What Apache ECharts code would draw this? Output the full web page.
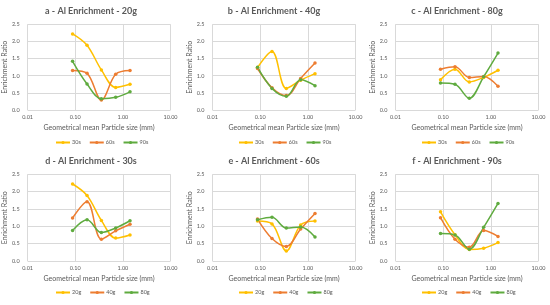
<!DOCTYPE html>
<html><head><meta charset="utf-8">
<script src="https://cdn.jsdelivr.net/npm/echarts@6/dist/echarts.min.js"></script>
<style>html,body{margin:0;padding:0;background:#fff}#c{width:550px;height:305px}</style>
</head><body><div id="c"></div>
<script>
// Geometric mean particle sizes (mm)
const sizes = [0.088, 0.177, 0.354, 0.707, 1.414];
const xTicks = ['0.01', '0.10', '1.00', '10.00'];
const yTicks = ['0.0', '0.5', '1.0', '1.5', '2.0', '2.5'];
// Enrichment ratio by mass and time
const g20_30s = [2.22, 1.89, 1.17, 0.66, 0.75];
const g20_60s = [1.15, 1.07, 0.29, 1.04, 1.15];
const g20_90s = [1.42, 0.76, 0.33, 0.37, 0.53];
const g40_30s = [1.24, 1.71, 0.63, 0.87, 1.06];
const g40_60s = [1.21, 0.65, 0.42, 0.92, 1.37];
const g40_90s = [1.25, 0.63, 0.40, 0.88, 0.71];
const g80_30s = [0.88, 1.19, 0.82, 0.95, 1.16];
const g80_60s = [1.19, 1.26, 0.95, 0.98, 0.69];
const g80_90s = [0.79, 0.75, 0.34, 0.97, 1.66];

const colors = ['#FFC000', '#ED7D31', '#5FAB3F'];
const panels = [
  {title: 'a - Al Enrichment - 20g', names: ['30s', '60s', '90s'], data: [g20_30s, g20_60s, g20_90s]},
  {title: 'b - Al Enrichment - 40g', names: ['30s', '60s', '90s'], data: [g40_30s, g40_60s, g40_90s]},
  {title: 'c - Al Enrichment - 80g', names: ['30s', '60s', '90s'], data: [g80_30s, g80_60s, g80_90s]},
  {title: 'd - Al Enrichment - 30s', names: ['20g', '40g', '80g'], data: [g20_30s, g40_30s, g80_30s]},
  {title: 'e - Al Enrichment - 60s', names: ['20g', '40g', '80g'], data: [g20_60s, g40_60s, g80_60s]},
  {title: 'f - Al Enrichment - 90s', names: ['20g', '40g', '80g'], data: [g20_90s, g40_90s, g80_90s]}
];

const FONT = 'Lato';
const txt = '#595959';
const grid = '#D9D9D9';
const colLeft = [27.5, 212.5, 395.5];
const colCenter = [91, 274, 457];
const rowTop = [24.3, 174.3];
const rowH = [85.7, 86.7];
const titleY = [6.5, 156.5];
const legendY = [139.5, 289.5];
const plotW = 143;

const option = {
  animation: false,
  backgroundColor: '#fff',
  title: [], grid: [], xAxis: [], yAxis: [], legend: [], series: []
};

panels.forEach((p, i) => {
  const c = i % 3, r = Math.floor(i / 3);
  option.title.push({
    text: p.title, left: colCenter[c], top: titleY[r], textAlign: 'center', padding: 0,
    textStyle: {fontFamily: FONT, fontSize: 9, fontWeight: 'bold', color: txt}
  });
  option.grid.push({left: colLeft[c], top: rowTop[r], width: plotW, height: rowH[r], containLabel: false});
  option.xAxis.push({
    type: 'log', logBase: 10, min: 0.01, max: 10, gridIndex: i,
    name: 'Geometrical mean Particle size (mm)', nameLocation: 'middle', nameGap: 14,
    nameTextStyle: {fontFamily: FONT, fontSize: 7, color: txt},
    axisLine: {show: false}, axisTick: {show: false},
    splitLine: {show: true, lineStyle: {color: grid, width: 1}},
    axisLabel: {fontFamily: FONT, fontSize: 5.5, color: txt, margin: 4,
      formatter: v => xTicks[Math.round(Math.log10(v)) + 2]}
  });
  option.yAxis.push({
    type: 'value', min: 0, max: 2.5, interval: 0.5, gridIndex: i,
    name: 'Enrichment Ratio', nameLocation: 'middle', nameGap: 15,
    nameTextStyle: {fontFamily: FONT, fontSize: 7, color: txt},
    axisLine: {show: false}, axisTick: {show: false},
    splitLine: {show: true, lineStyle: {color: grid, width: 1}},
    axisLabel: {fontFamily: FONT, fontSize: 5.5, color: txt, margin: 8,
      formatter: v => yTicks[Math.round(v / 0.5)]}
  });
  option.legend.push({
    left: colCenter[c] - 36, top: legendY[r], data: p.names, itemWidth: 14, itemHeight: 4, itemGap: 8,
    padding: 0, selectedMode: false,
    textStyle: {fontFamily: FONT, fontSize: 5.5, color: txt, padding: [0, 0, 0, -3]}
  });
  p.names.forEach((n, k) => {
    option.series.push({
      type: 'line', name: n, xAxisIndex: i, yAxisIndex: i, smooth: 0.35,
      data: sizes.map((s, j) => [s, p.data[k][j]]),
      symbol: 'circle', symbolSize: 3.5,
      lineStyle: {color: colors[k], width: 1.5},
      itemStyle: {color: colors[k]}
    });
  });
});

const chart = echarts.init(document.getElementById('c'), null, {renderer: 'canvas'});
chart.setOption(option);
</script></body></html>
